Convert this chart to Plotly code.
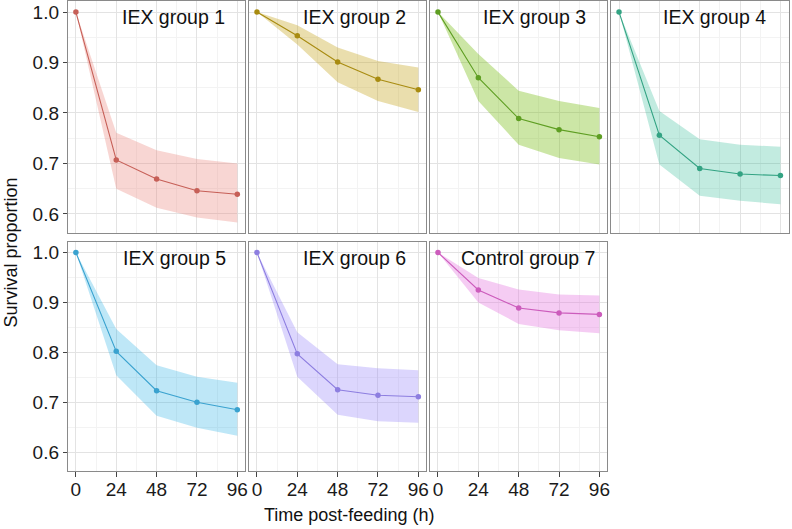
import plotly.graph_objects as go

times = [0, 24, 48, 72, 96]
group_names = ["IEX group 1", "IEX group 2", "IEX group 3", "IEX group 4",
               "IEX group 5", "IEX group 6", "Control group 7"]

g1_mean = [1.0, 0.707, 0.669, 0.646, 0.639]
g1_upper = [1.0, 0.761, 0.726, 0.709, 0.700]
g1_lower = [1.0, 0.650, 0.612, 0.593, 0.583]

g2_mean = [1.0, 0.953, 0.901, 0.867, 0.846]
g2_upper = [1.0, 0.974, 0.930, 0.903, 0.890]
g2_lower = [1.0, 0.936, 0.861, 0.824, 0.802]

g3_mean = [1.0, 0.870, 0.789, 0.767, 0.753]
g3_upper = [1.0, 0.917, 0.844, 0.824, 0.810]
g3_lower = [1.0, 0.824, 0.737, 0.711, 0.698]

g4_mean = [1.0, 0.756, 0.690, 0.679, 0.676]
g4_upper = [1.0, 0.804, 0.748, 0.737, 0.733]
g4_lower = [1.0, 0.698, 0.636, 0.626, 0.619]

g5_mean = [1.0, 0.802, 0.723, 0.700, 0.685]
g5_upper = [1.0, 0.847, 0.774, 0.751, 0.739]
g5_lower = [1.0, 0.754, 0.673, 0.649, 0.633]

g6_mean = [1.0, 0.797, 0.725, 0.714, 0.711]
g6_upper = [1.0, 0.840, 0.776, 0.768, 0.764]
g6_lower = [1.0, 0.751, 0.675, 0.662, 0.659]

g7_mean = [1.0, 0.925, 0.889, 0.879, 0.876]
g7_upper = [1.0, 0.949, 0.926, 0.916, 0.914]
g7_lower = [1.0, 0.900, 0.857, 0.844, 0.838]

means = [g1_mean, g2_mean, g3_mean, g4_mean, g5_mean, g6_mean, g7_mean]
uppers = [g1_upper, g2_upper, g3_upper, g4_upper, g5_upper, g6_upper, g7_upper]
lowers = [g1_lower, g2_lower, g3_lower, g4_lower, g5_lower, g6_lower, g7_lower]

x_ticks = [0, 24, 48, 72, 96]
y_ticks = [0.6, 0.7, 0.8, 0.9, 1.0]
y_tick_text = ["0.6", "0.7", "0.8", "0.9", "1.0"]

line_colors = ["#C65F57", "#A88B10", "#5E9E22", "#33A383", "#3AA2CF", "#8D7EE0", "#CC5CBC"]
fill_colors = ["rgba(235,130,120,0.33)", "rgba(196,160,20,0.35)", "rgba(120,190,20,0.38)",
               "rgba(30,180,140,0.27)", "rgba(40,175,230,0.30)", "rgba(150,130,250,0.33)",
               "rgba(225,110,220,0.35)"]

W, H = 792, 529
col_left = [68, 249.5, 431, 612.5]
col_w = 178
row_top = [0.5, 241.5]
row_h = [232, 229.5]

def px_x(x):
    return x / W

def px_y(y):
    return 1 - y / H

font_fam = "Liberation Sans, Arial, Helvetica, sans-serif"

fig = go.Figure()
layout = dict(
    width=W, height=H, margin=dict(l=0, r=0, t=0, b=0, pad=0),
    paper_bgcolor="white", plot_bgcolor="white", showlegend=False,
    font=dict(family=font_fam, color="#1a1a1a", size=19),
)

annotations = []
label_centers = [173.5, 355.5, 535.5, 716.5, 175, 355.5, 529.5]

for i in range(7):
    r, c = divmod(i, 4)
    ax = "" if i == 0 else str(i + 1)
    xa, ya = "x" + ax, "y" + ax
    x0 = px_x(col_left[c])
    x1 = px_x(col_left[c] + col_w)
    y1 = px_y(row_top[r])
    y0 = px_y(row_top[r] + row_h[r])
    layout["xaxis" + ax] = dict(
        domain=[x0, min(1.0, x1)], anchor=ya, range=[-4.8, 100.8],
        tickvals=x_ticks, ticktext=[str(v) for v in x_ticks],
        showticklabels=(r == 1), ticks="outside" if r == 1 else "",
        ticklen=5, tickcolor="#444", tickwidth=1, ticklabelstandoff=-4,
        showgrid=True, gridcolor="#E3E3E3", gridwidth=1,
        minor=dict(showgrid=True, gridcolor="#F3F3F3", dtick=12, tick0=0, ticks=""),
        showline=True, mirror=True, linecolor="#8A8A8A", linewidth=1,
        zeroline=False, tickfont=dict(size=19, color="#1a1a1a"),
    )
    layout["yaxis" + ax] = dict(
        domain=[y0, y1], anchor=xa, range=[0.562, 1.021],
        tickvals=y_ticks, ticktext=y_tick_text,
        showticklabels=(c == 0), ticks="outside" if c == 0 else "",
        ticklen=4, tickcolor="#444", tickwidth=1,
        showgrid=True, gridcolor="#E3E3E3", gridwidth=1,
        minor=dict(showgrid=True, gridcolor="#F3F3F3", dtick=0.05, tick0=0.55, ticks=""),
        showline=True, mirror=True, linecolor="#8A8A8A", linewidth=1,
        zeroline=False, tickfont=dict(size=19, color="#1a1a1a"),
    )
    fig.add_trace(go.Scatter(
        x=times + times[::-1], y=uppers[i] + lowers[i][::-1],
        fill="toself", fillcolor=fill_colors[i], line=dict(width=0),
        mode="lines", hoverinfo="skip", xaxis=xa, yaxis=ya,
    ))
    fig.add_trace(go.Scatter(
        x=times, y=means[i], mode="lines+markers",
        line=dict(color=line_colors[i], width=1.1),
        marker=dict(color=line_colors[i], size=5.5),
        xaxis=xa, yaxis=ya, cliponaxis=False,
    ))
    ty = row_top[r] + 15.5
    annotations.append(dict(
        text=group_names[i], x=px_x(label_centers[i]), y=px_y(ty),
        xref="paper", yref="paper", xanchor="center", yanchor="middle",
        showarrow=False, font=dict(size=19.5, color="#111", family=font_fam),
    ))

annotations.append(dict(
    text="Time post-feeding (h)", x=px_x(350), y=px_y(515), xref="paper", yref="paper",
    xanchor="center", yanchor="middle", showarrow=False,
    font=dict(size=18, color="#111", family=font_fam),
))
annotations.append(dict(
    text="Survival proportion", x=px_x(11), y=px_y(252), xref="paper", yref="paper",
    xanchor="center", yanchor="middle", showarrow=False, textangle=-90,
    font=dict(size=18, color="#111", family=font_fam),
))
layout["annotations"] = annotations
fig.update_layout(**layout)
fig.write_html(
    "out.html",
    config={"displayModeBar": False},
    post_script="document.body.style.margin='0px';document.body.style.overflow='hidden';",
)
